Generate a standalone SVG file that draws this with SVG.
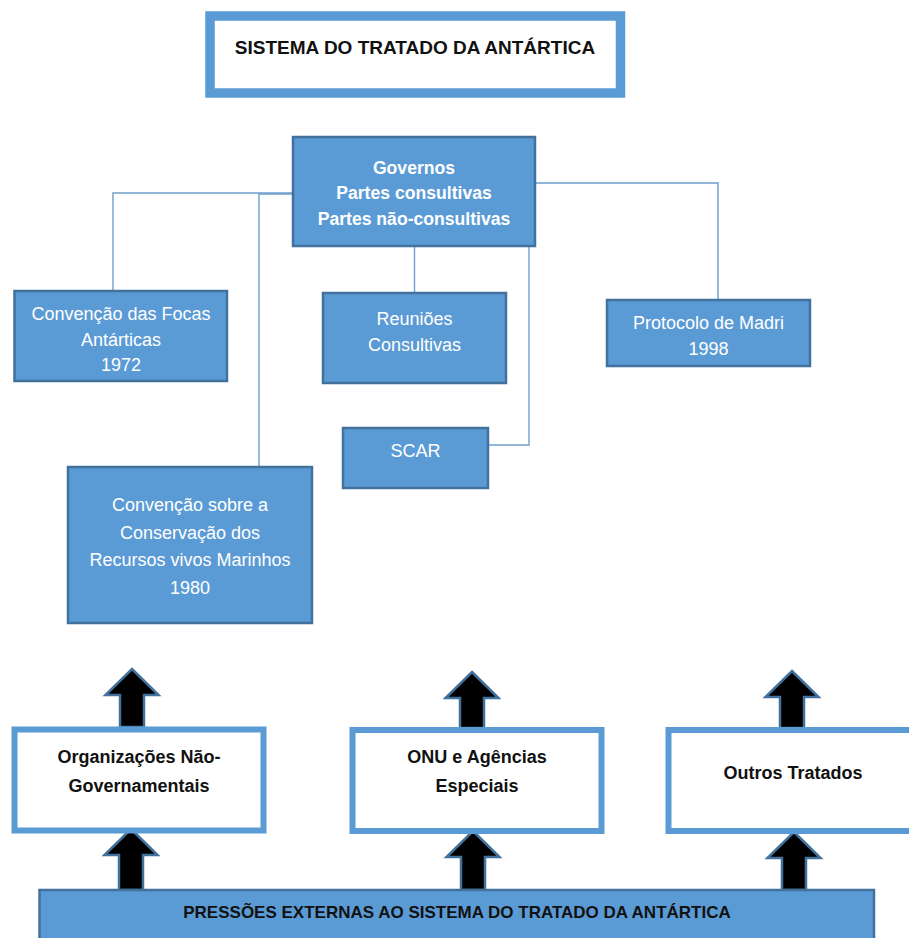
<svg xmlns="http://www.w3.org/2000/svg" width="909" height="938" viewBox="0 0 909 938">
<style>
.box{fill:#5B9BD5;stroke:#41719C;stroke-width:2.5}
.frame{fill:#ffffff;stroke:#5B9BD5;stroke-width:6}
.arrow{fill:#000000;stroke:#41719C;stroke-width:2.5;stroke-linejoin:miter}
.conn{fill:none;stroke:#6E9FCB;stroke-width:1.4}
.wt{font-family:"Liberation Sans",Arial,sans-serif;font-size:18px;fill:#ffffff;text-anchor:middle}
.wb{font-family:"Liberation Sans",Arial,sans-serif;font-size:17.6px;font-weight:bold;fill:#ffffff;text-anchor:middle}
.bt{font-family:"Liberation Sans",Arial,sans-serif;font-size:17px;font-weight:bold;fill:#111111;text-anchor:middle}
.bb{font-family:"Liberation Sans",Arial,sans-serif;font-size:18px;font-weight:bold;fill:#111111;text-anchor:middle}
</style>
<rect width="909" height="938" fill="#ffffff"/>

<g id="connectors">
<polyline class="conn" points="293,193 113,193 113,291"/>
<polyline class="conn" points="293,194 259,194 259,467"/>
<line class="conn" x1="414.5" y1="246" x2="414.5" y2="293"/>
<polyline class="conn" points="529,246 529,445 488,445"/>
<polyline class="conn" points="535,183 718,183 718,300"/>
</g>

<g id="title">
<rect x="210" y="16" width="410.5" height="77" fill="#ffffff" stroke="#5B9BD5" stroke-width="9.5"/>
<text x="415" y="54" class="bt" style="font-size:19px">SISTEMA DO TRATADO DA ANTÁRTICA</text>
</g>

<g id="governos">
<rect class="box" x="293" y="137" width="242" height="109"/>
<text class="wb" x="414" y="174">Governos</text>
<text class="wb" x="414" y="199">Partes consultivas</text>
<text class="wb" x="414" y="225">Partes não-consultivas</text>
</g>

<g id="focas">
<rect class="box" x="14.5" y="291" width="212.5" height="90"/>
<text class="wt" x="121" y="320">Convenção das Focas</text>
<text class="wt" x="121" y="346">Antárticas</text>
<text class="wt" x="121" y="371">1972</text>
</g>

<g id="reunioes">
<rect class="box" x="323" y="293" width="183" height="90"/>
<text class="wt" x="414.5" y="325">Reuniões</text>
<text class="wt" x="414.5" y="351">Consultivas</text>
</g>

<g id="protocolo">
<rect class="box" x="607" y="300" width="203" height="66"/>
<text class="wt" x="708.5" y="329">Protocolo de Madri</text>
<text class="wt" x="708.5" y="355">1998</text>
</g>

<g id="scar">
<rect class="box" x="343" y="428" width="145" height="60"/>
<text class="wt" x="415.5" y="457">SCAR</text>
</g>

<g id="ccrvm">
<rect class="box" x="68" y="467" width="244" height="156"/>
<text class="wt" x="190" y="511">Convenção sobre a</text>
<text class="wt" x="190" y="538.5">Conservação dos</text>
<text class="wt" x="190" y="566">Recursos vivos Marinhos</text>
<text class="wt" x="190" y="593.5">1980</text>
</g>

<g id="arrows">
<polygon class="arrow" points="132,669 158.5,695 144,695 144,727 120,727 120,695 105.5,695"/>
<polygon class="arrow" points="472,672 498.5,698 484,698 484,728 460,728 460,698 445.5,698"/>
<polygon class="arrow" points="792,671 818.5,697 804,697 804,728 780,728 780,697 765.5,697"/>
<polygon class="arrow" points="131,829 157.5,855 143,855 143,890 119,890 119,855 104.5,855"/>
<polygon class="arrow" points="473,831 499.5,857 485,857 485,890 461,890 461,857 446.5,857"/>
<polygon class="arrow" points="794,832 820.5,858 806,858 806,890 782,890 782,858 767.5,858"/>
</g>

<g id="ong">
<rect class="frame" x="14.5" y="729.5" width="249" height="101"/>
<text class="bb" x="139" y="763">Organizações Não-</text>
<text class="bb" x="139" y="792">Governamentais</text>
</g>

<g id="onu">
<rect class="frame" x="352.5" y="730" width="249" height="101"/>
<text class="bb" x="477" y="763">ONU e Agências</text>
<text class="bb" x="477" y="792">Especiais</text>
</g>

<g id="outros">
<rect class="frame" x="668.5" y="730" width="250" height="101"/>
<text class="bb" x="793" y="779">Outros Tratados</text>
</g>

<g id="pressoes">
<rect class="box" x="39.5" y="890" width="834.5" height="60"/>
<text class="bt" x="457" y="918">PRESSÕES EXTERNAS AO SISTEMA DO TRATADO DA ANTÁRTICA</text>
</g>
</svg>
